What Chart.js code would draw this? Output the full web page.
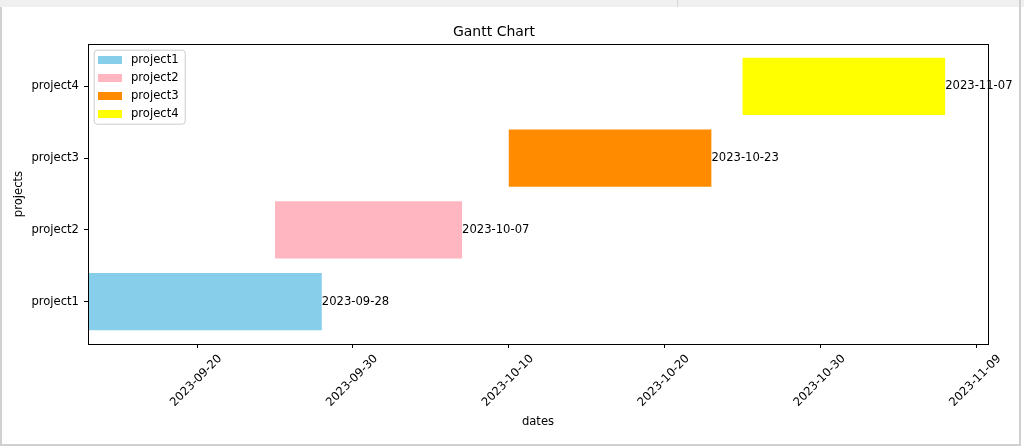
<!DOCTYPE html>
<html>
<head>
<meta charset="utf-8">
<script src="https://cdn.jsdelivr.net/npm/chart.js@4.4.0/dist/chart.umd.min.js"></script>
<style>
  html, body { margin: 0; padding: 0; background: #fff; width: 1024px; height: 447px; overflow: hidden; }
  #c { position: absolute; left: 0; top: 0; }
  .f { position: absolute; }
</style>
</head>
<body>
<canvas id="c" width="1024" height="447"></canvas>
<div class="f" style="left:0;top:0;width:1024px;height:7px;background:#f0f0f0"></div>
<div class="f" style="left:677px;top:0;width:1px;height:7px;background:#d6d6d6"></div>
<div class="f" style="left:0;top:7px;width:2px;height:439px;background:#d0d0d0"></div>
<div class="f" style="left:1019px;top:0;width:2px;height:446px;background:#d0d0d0"></div>
<div class="f" style="left:0;top:444px;width:1021px;height:2px;background:#d0d0d0"></div>
<script>
// ---- data ----
const categories = ['project1', 'project2', 'project3', 'project4'];
const startDates = ['2023-09-13', '2023-09-25', '2023-10-10', '2023-10-25'];
const endDates   = ['2023-09-28', '2023-10-07', '2023-10-23', '2023-11-07'];
const tickDates  = ['2023-09-20', '2023-09-30', '2023-10-10', '2023-10-20', '2023-10-30', '2023-11-09'];
const barColors  = ['#87CEEB', '#FFB6C1', '#FF8C00', '#FFFF00'];

const DAY = 86400000;
const toDay = s => { const [y, m, d] = s.split('-').map(Number); return Date.UTC(y, m - 1, d) / DAY; };
const fmtDay = v => new Date(Math.round(v) * DAY).toISOString().slice(0, 10);

const startDays = startDates.map(toDay);
const endDays = endDates.map(toDay);
const tickDays = tickDates.map(toDay);

// matplotlib-like limits: sticky left edge at earliest start, 5% margin on the right
const xMin = Math.min(...startDays);
const xMaxData = Math.max(...endDays);
const xMax = xMaxData + 0.05 * (xMaxData - xMin);
const barH = 0.8;
const yLo = -barH / 2, yHi = categories.length - 1 + barH / 2;
const yMin = yLo - 0.05 * (yHi - yLo), yMax = yHi + 0.05 * (yHi - yLo);

const FONT = 'DejaVu Sans';
const fs = 11.6;

const datasets = categories.map((c, i) => ({
  label: c,
  data: [{ x: [startDays[i], endDays[i]], y: i }],
  backgroundColor: barColors[i],
  borderWidth: 0,
  grouped: false,
  barPercentage: barH,
  categoryPercentage: 1.0
}));

const boxAndLabels = {
  id: 'boxAndLabels',
  afterDatasetsDraw(chart) {
    const ctx = chart.ctx, a = chart.chartArea;
    ctx.save();
    ctx.strokeStyle = '#000';
    ctx.lineWidth = 1;
    ctx.strokeRect(Math.round(a.left) + 0.5, Math.round(a.top) + 0.5,
                   Math.round(a.right - a.left), Math.round(a.bottom - a.top));
    ctx.font = fs + 'px "' + FONT + '"';
    ctx.fillStyle = '#000';
    ctx.textAlign = 'left';
    ctx.textBaseline = 'middle';
    chart.data.datasets.forEach((ds, i) => {
      const meta = chart.getDatasetMeta(i);
      meta.data.forEach(el => { ctx.fillText(endDates[i], el.x, el.y); });
    });
    ctx.restore();
  }
};

const innerLegend = {
  id: 'innerLegend',
  afterDraw(chart) {
    const ctx = chart.ctx, a = chart.chartArea;
    const x0 = a.left + 5.7, y0 = a.top + 5.7, w = 91, h = 74;
    ctx.save();
    ctx.beginPath();
    ctx.roundRect(x0 + 0.5, y0 + 0.5, w, h, 3);
    ctx.fillStyle = 'rgba(255,255,255,0.8)';
    ctx.fill();
    ctx.strokeStyle = '#cccccc';
    ctx.lineWidth = 1;
    ctx.stroke();
    ctx.font = fs + 'px "' + FONT + '"';
    ctx.textAlign = 'left';
    ctx.textBaseline = 'middle';
    chart.data.datasets.forEach((ds, i) => {
      const cy = a.top + 16 + i * 18;
      ctx.fillStyle = ds.backgroundColor;
      ctx.fillRect(a.left + 10, cy - 4, 24, 8);
      ctx.fillStyle = '#000';
      ctx.fillText(ds.label, a.left + 43, cy);
    });
    ctx.restore();
  }
};

new Chart(document.getElementById('c'), {
  type: 'bar',
  data: { datasets },
  plugins: [boxAndLabels, innerLegend],
  options: {
    indexAxis: 'y',
    responsive: false,
    animation: false,
    devicePixelRatio: 1,
    events: [],
    layout: { padding: { left: 0, right: 36, top: 0, bottom: 0 } },
    plugins: {
      legend: { display: false },
      tooltip: { enabled: false },
      title: {
        display: true,
        text: 'Gantt Chart',
        color: '#000',
        font: { family: FONT, size: 14, weight: 'normal' },
        padding: { top: 24, bottom: 3.2 }
      }
    },
    scales: {
      x: {
        type: 'linear',
        min: xMin,
        max: xMax,
        offset: false,
        beginAtZero: false,
        afterBuildTicks: s => { s.ticks = tickDays.map(v => ({ value: v })); },
        afterFit: s => { s.height = 103; s.paddingLeft = 0; s.paddingRight = 0; },
        ticks: {
          callback: v => fmtDay(v),
          color: '#000',
          font: { family: FONT, size: fs },
          minRotation: 45,
          maxRotation: 45,
          autoSkip: false,
          padding: 4,
          labelOffset: 23
        },
        grid: { display: true, offset: false, drawOnChartArea: false, drawTicks: true, tickLength: 4, tickColor: '#000', tickWidth: 1 },
        border: { display: false },
        title: {
          display: true,
          text: 'dates',
          color: '#000',
          font: { family: FONT, size: fs },
          padding: { top: 0, bottom: 18 }
        }
      },
      y: {
        type: 'linear',
        min: yMin,
        max: yMax,
        offset: false,
        afterBuildTicks: s => { s.ticks = categories.map((c, i) => ({ value: i })); },
        afterFit: s => { s.width = 88; },
        ticks: {
          callback: v => categories[v],
          color: '#000',
          font: { family: FONT, size: fs },
          autoSkip: false,
          padding: 5
        },
        grid: { display: true, offset: false, drawOnChartArea: false, drawTicks: true, tickLength: 4, tickColor: '#000', tickWidth: 1 },
        border: { display: false },
        title: {
          display: true,
          text: 'projects',
          color: '#000',
          font: { family: FONT, size: fs },
          padding: { top: 12, bottom: 0 }
        }
      }
    }
  }
});
</script>
</body>
</html>
